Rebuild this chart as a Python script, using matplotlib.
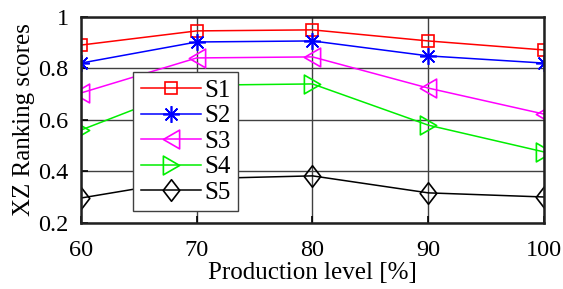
import matplotlib
matplotlib.use("Agg")
import matplotlib.pyplot as plt
from matplotlib.path import Path
from matplotlib.ticker import FuncFormatter

x = [60, 70, 80, 90, 100]
s1 = [0.891, 0.946, 0.950, 0.907, 0.872]
s2 = [0.821, 0.903, 0.907, 0.849, 0.821]
s3 = [0.705, 0.841, 0.845, 0.724, 0.623]
s4 = [0.561, 0.735, 0.740, 0.580, 0.476]
s5 = [0.297, 0.372, 0.383, 0.317, 0.301]
labels = ["S1", "S2", "S3", "S4", "S5"]

plt.rcParams['font.family'] = ['Liberation Serif', 'DejaVu Serif']
fig = plt.figure(figsize=(5.63, 2.89), dpi=100)
ax = fig.add_axes([0.1439, 0.2284, 0.8223, 0.7128])

tri_l = Path([(-0.866, 0), (0.866, 1), (0.866, -1), (-0.866, 0)], closed=True)
tri_r = Path([(0.866, 0), (-0.866, 1), (-0.866, -1), (0.866, 0)], closed=True)
diam = Path([(0, 1), (0.77, 0), (0, -1), (-0.77, 0), (0, 1)], closed=True)

styles = [
    ("#ff0000", "s", 9),
    ("#0000ff", (8, 2, 0), 12),
    ("#ff00ff", tri_l, 13.5),
    ("#00ee00", tri_r, 13.5),
    ("#000000", diam, 15.5),
]
for ys, lab, (c, m, ms) in zip([s1, s2, s3, s4, s5], labels, styles):
    ax.plot(x, ys, color=c, lw=1.1, marker=m, ms=ms, mfc="none", mec=c, mew=1.2, label=lab)

ax.set_xlim(60, 100)
ax.set_ylim(0.2, 1.0)
ax.set_xticks([60, 70, 80, 90, 100])
ax.set_yticks([0.2, 0.4, 0.6, 0.8, 1.0])
ax.yaxis.set_major_formatter(FuncFormatter(lambda v, p: "1" if abs(v - 1) < 1e-9 else f"{v:.1f}"))
ax.grid(True, color="#404040", lw=1.0)
ax.set_axisbelow(True)
for sp in ax.spines.values():
    sp.set_linewidth(1.8)
    sp.set_color("#202020")
ax.tick_params(direction="in", length=5, width=1.2, labelsize=17.5, top=False, right=False)
ax.tick_params(axis="x", pad=12)
ax.tick_params(axis="y", pad=9)
ax.set_xlabel("Production level [%]", fontsize=18, labelpad=1)
ax.set_ylabel("XZ Ranking scores", fontsize=18, labelpad=2)

leg = ax.legend(loc="upper left", bbox_to_anchor=(0.1123, 0.733), borderaxespad=0, fontsize=18,
                handlelength=2.4, labelspacing=0.12, borderpad=0.3, handletextpad=0.15,
                fancybox=False, edgecolor="#404040", framealpha=1.0)
leg.get_frame().set_linewidth(1.0)

fig.savefig("out.png", dpi=100)
